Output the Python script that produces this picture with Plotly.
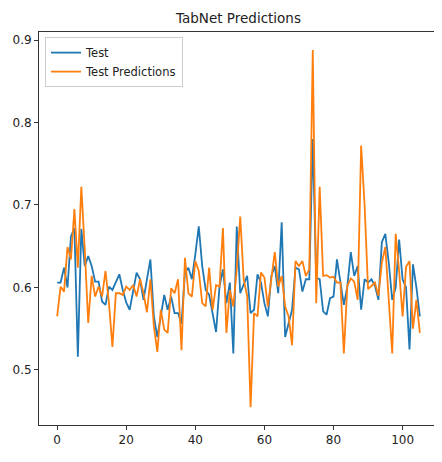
import plotly.graph_objects as go

x_index = list(range(106))

test_values = [
    0.606, 0.606, 0.624, 0.600, 0.662, 0.672, 0.516, 0.671, 0.626, 0.638,
    0.626, 0.607, 0.607, 0.583, 0.579, 0.601, 0.597, 0.607, 0.616, 0.597,
    0.582, 0.573, 0.597, 0.618, 0.610, 0.585, 0.610, 0.634, 0.565, 0.540,
    0.565, 0.591, 0.573, 0.589, 0.569, 0.569, 0.556, 0.618, 0.624, 0.610,
    0.640, 0.674, 0.626, 0.597, 0.591, 0.569, 0.546, 0.601, 0.622, 0.581,
    0.606, 0.520, 0.674, 0.593, 0.603, 0.614, 0.569, 0.573, 0.616, 0.606,
    0.581, 0.565, 0.614, 0.626, 0.593, 0.679, 0.540, 0.555, 0.573, 0.624,
    0.622, 0.595, 0.610, 0.610, 0.780, 0.612, 0.610, 0.571, 0.567, 0.587,
    0.589, 0.634, 0.606, 0.579, 0.601, 0.643, 0.614, 0.626, 0.573, 0.610,
    0.606, 0.610, 0.602, 0.585, 0.655, 0.665, 0.630, 0.585, 0.600, 0.658,
    0.610, 0.600, 0.525, 0.628, 0.600, 0.565,
]

pred_values = [
    0.565, 0.601, 0.595, 0.649, 0.634, 0.695, 0.624, 0.722, 0.646, 0.557,
    0.614, 0.589, 0.601, 0.589, 0.620, 0.581, 0.528, 0.593, 0.593, 0.591,
    0.601, 0.597, 0.603, 0.589, 0.610, 0.593, 0.570, 0.610, 0.553, 0.522,
    0.573, 0.549, 0.545, 0.599, 0.593, 0.610, 0.524, 0.636, 0.593, 0.589,
    0.632, 0.620, 0.581, 0.577, 0.624, 0.573, 0.603, 0.601, 0.672, 0.545,
    0.597, 0.577, 0.622, 0.686, 0.610, 0.590, 0.455, 0.569, 0.565, 0.618,
    0.612, 0.577, 0.610, 0.643, 0.601, 0.614, 0.577, 0.565, 0.530, 0.632,
    0.626, 0.632, 0.614, 0.622, 0.888, 0.581, 0.722, 0.614, 0.615, 0.612,
    0.613, 0.606, 0.606, 0.520, 0.602, 0.611, 0.607, 0.585, 0.772, 0.700,
    0.598, 0.602, 0.606, 0.590, 0.630, 0.649, 0.590, 0.520, 0.665, 0.620,
    0.565, 0.625, 0.632, 0.550, 0.585, 0.545,
]

x_ticks = [0, 20, 40, 60, 80, 100]
y_ticks = [0.5, 0.6, 0.7, 0.8, 0.9]

fig = go.Figure()
fig.add_trace(go.Scatter(x=x_index, y=test_values, mode="lines", name="Test",
                         line=dict(color="#1f77b4", width=1.8)))
fig.add_trace(go.Scatter(x=x_index, y=pred_values, mode="lines", name="Test Predictions",
                         line=dict(color="#ff7f0e", width=1.8)))

font_family = "DejaVu Sans, sans-serif"
axis_common = dict(showgrid=False, zeroline=False, showline=True, linecolor="#333333",
                   linewidth=1, mirror=True, ticks="outside", ticklen=4, tickwidth=1,
                   tickcolor="#333333", tickfont=dict(family=font_family, size=12, color="#222222"))

fig.update_layout(
    width=434, height=454,
    margin=dict(l=31, r=4, t=24, b=37),
    paper_bgcolor="white", plot_bgcolor="white",
    title=dict(text="TabNet Predictions", xref="paper", x=0.5, xanchor="center",
               yref="container", y=0.978, yanchor="middle",
               font=dict(family=font_family, size=13.5, color="#222222")),
    xaxis=dict(range=[-5.25, 110.25], tickvals=x_ticks, **axis_common),
    yaxis=dict(range=[0.4333, 0.9097], tickvals=y_ticks, **axis_common),
    legend=dict(x=0.015, y=0.987, xanchor="left", yanchor="top",
                bgcolor="rgba(255,255,255,0.8)", bordercolor="#cccccc", borderwidth=1,
                font=dict(family=font_family, size=11.5, color="#222222")),
    showlegend=True,
)

fig.write_html("out.html")
